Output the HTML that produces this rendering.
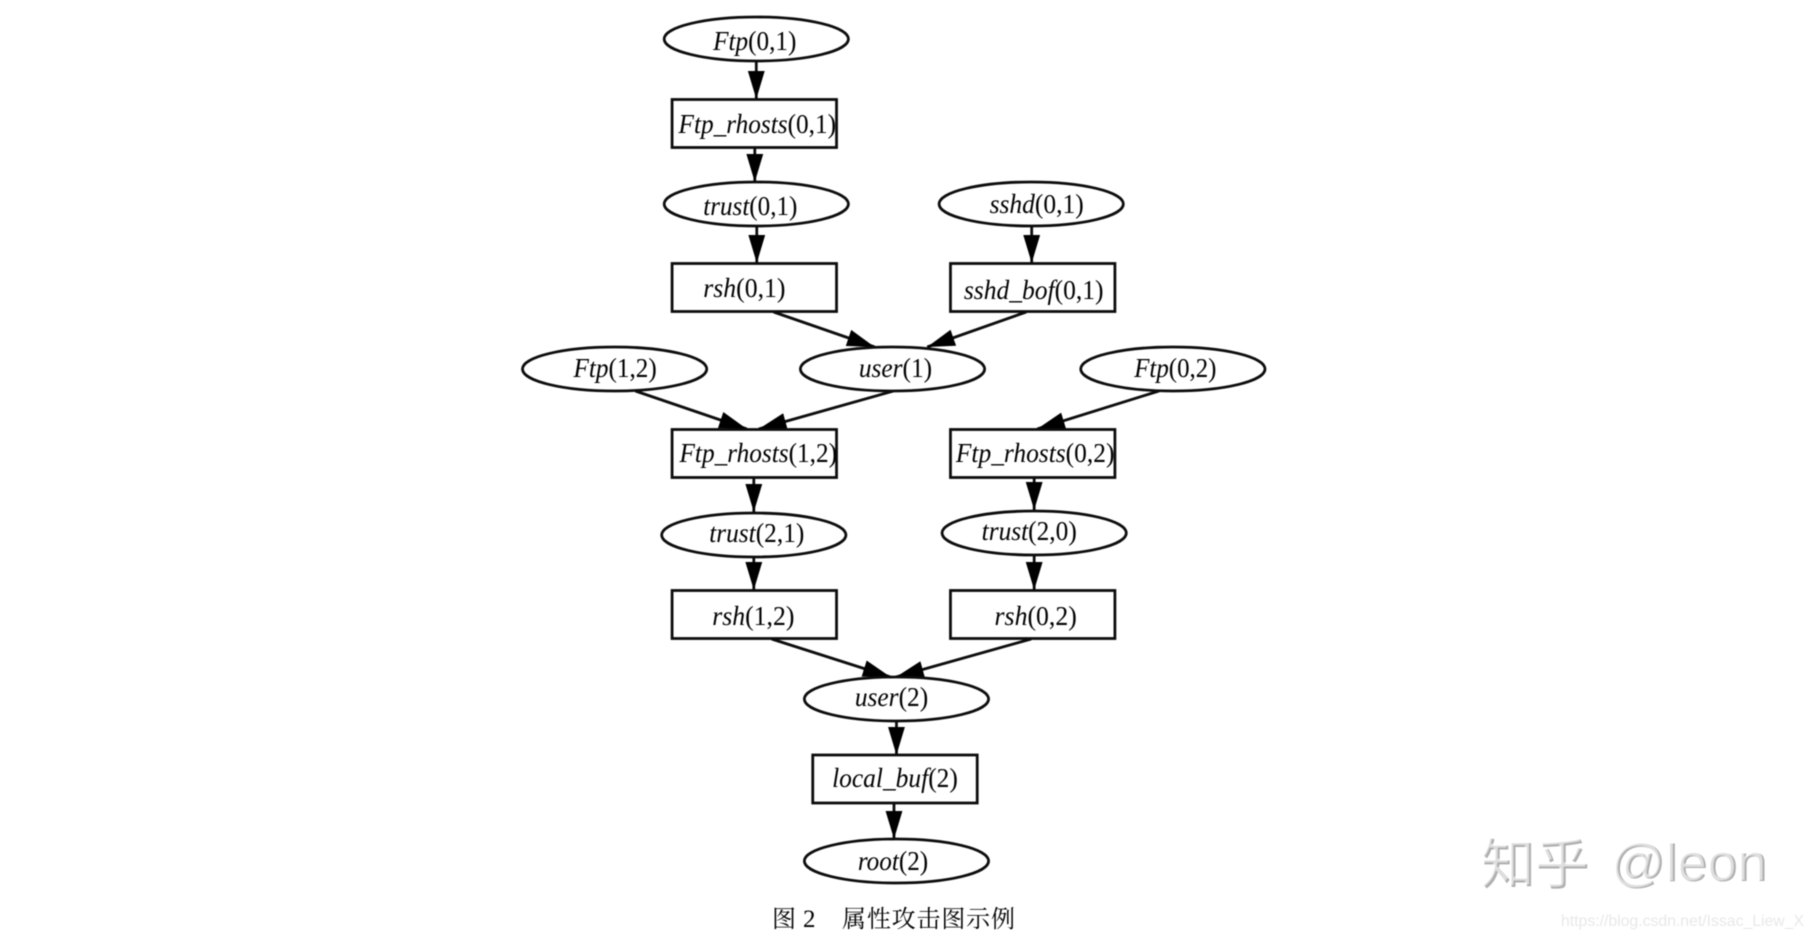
<!DOCTYPE html>
<html><head><meta charset="utf-8">
<style>
html,body{margin:0;padding:0;background:#fff;width:1814px;height:938px;overflow:hidden}
svg{display:block;filter:blur(0.45px)}
text{font-family:"Liberation Serif","Noto Serif CJK SC",serif;font-size:27px;fill:#000}
.i{font-style:italic}
ellipse,rect{fill:#fff;stroke:#0c0c0c;stroke-width:2.8}
line{stroke:#0c0c0c;stroke-width:2.8;marker-end:url(#a)}
</style></head><body>
<svg width="1814" height="938" viewBox="0 0 1814 938" xmlns="http://www.w3.org/2000/svg">
<defs><marker id="a" markerUnits="userSpaceOnUse" markerWidth="30" markerHeight="20" refX="28" refY="10" orient="auto"><polygon points="0,1.5 28,10 0,18.5" fill="#000"/></marker></defs>

<g transform="translate(4.84,0) scale(0.9907,1)">
<line x1="758.5" y1="62" x2="758.5" y2="99"/>
<line x1="757" y1="148" x2="757" y2="182"/>
<line x1="759" y1="227" x2="759" y2="263"/>
<line x1="1036.5" y1="227" x2="1036.5" y2="263"/>
<line x1="776" y1="312" x2="878" y2="347"/>
<line x1="1031" y1="312" x2="931" y2="347"/>
<line x1="636.5" y1="391" x2="749" y2="429"/>
<line x1="897" y1="391" x2="761" y2="429"/>
<line x1="1165" y1="391" x2="1042" y2="429"/>
<line x1="756" y1="478" x2="756" y2="512"/>
<line x1="1039" y1="478" x2="1039" y2="510"/>
<line x1="756" y1="557" x2="756" y2="590"/>
<line x1="1039" y1="555" x2="1039" y2="590"/>
<line x1="774" y1="639" x2="894" y2="677"/>
<line x1="1036" y1="639" x2="899.5" y2="677"/>
<line x1="900" y1="721" x2="900" y2="755"/>
<line x1="897.5" y1="803" x2="897.5" y2="839"/>

<ellipse cx="758.5" cy="39" rx="93" ry="22"/>
<rect x="673.5" y="99.5" width="166" height="48"/>
<ellipse cx="758.5" cy="204" rx="93" ry="22"/>
<ellipse cx="1036" cy="204" rx="93" ry="22"/>
<rect x="673.5" y="263.5" width="166" height="48"/>
<rect x="954.5" y="263.5" width="166" height="48"/>
<ellipse cx="615.5" cy="369" rx="93" ry="22"/>
<ellipse cx="896" cy="369" rx="93" ry="22"/>
<ellipse cx="1179" cy="369" rx="93" ry="22"/>
<rect x="673.5" y="429.5" width="166" height="48"/>
<rect x="954.5" y="429.5" width="166" height="48"/>
<ellipse cx="756" cy="535" rx="93" ry="22"/>
<ellipse cx="1039" cy="533" rx="93" ry="22"/>
<rect x="673.5" y="590.5" width="166" height="48"/>
<rect x="954.5" y="590.5" width="166" height="48"/>
<ellipse cx="900" cy="699" rx="93" ry="22"/>
<rect x="815.5" y="755" width="166" height="48"/>
<ellipse cx="900" cy="861" rx="93" ry="22"/>

<text x="715" y="50" textLength="84" lengthAdjust="spacingAndGlyphs"><tspan class="i">Ftp</tspan>(0,1)</text>
<text x="680" y="133" textLength="159" lengthAdjust="spacingAndGlyphs"><tspan class="i">Ftp_rhosts</tspan>(0,1)</text>
<text x="705" y="215" textLength="95" lengthAdjust="spacingAndGlyphs"><tspan class="i">trust</tspan>(0,1)</text>
<text x="994" y="213" textLength="95" lengthAdjust="spacingAndGlyphs"><tspan class="i">sshd</tspan>(0,1)</text>
<text x="705" y="297" textLength="83" lengthAdjust="spacingAndGlyphs"><tspan class="i">rsh</tspan>(0,1)</text>
<text x="968" y="299" textLength="141" lengthAdjust="spacingAndGlyphs"><tspan class="i">sshd_bof</tspan>(0,1)</text>
<text x="574" y="377" textLength="84" lengthAdjust="spacingAndGlyphs"><tspan class="i">Ftp</tspan>(1,2)</text>
<text x="862" y="377" textLength="74" lengthAdjust="spacingAndGlyphs"><tspan class="i">user</tspan>(1)</text>
<text x="1140" y="377" textLength="83" lengthAdjust="spacingAndGlyphs"><tspan class="i">Ftp</tspan>(0,2)</text>
<text x="681" y="462" textLength="159" lengthAdjust="spacingAndGlyphs"><tspan class="i">Ftp_rhosts</tspan>(1,2)</text>
<text x="960" y="462" textLength="160" lengthAdjust="spacingAndGlyphs"><tspan class="i">Ftp_rhosts</tspan>(0,2)</text>
<text x="711" y="542" textLength="96" lengthAdjust="spacingAndGlyphs"><tspan class="i">trust</tspan>(2,1)</text>
<text x="986" y="540" textLength="96" lengthAdjust="spacingAndGlyphs"><tspan class="i">trust</tspan>(2,0)</text>
<text x="714" y="625" textLength="83" lengthAdjust="spacingAndGlyphs"><tspan class="i">rsh</tspan>(1,2)</text>
<text x="999" y="625" textLength="83" lengthAdjust="spacingAndGlyphs"><tspan class="i">rsh</tspan>(0,2)</text>
<text x="858" y="706" textLength="74" lengthAdjust="spacingAndGlyphs"><tspan class="i">user</tspan>(2)</text>
<text x="835" y="787" textLength="127" lengthAdjust="spacingAndGlyphs"><tspan class="i">local_buf</tspan>(2)</text>
<text x="861" y="870" textLength="71" lengthAdjust="spacingAndGlyphs"><tspan class="i">root</tspan>(2)</text>
</g>

<text x="772" y="927" style="font-size:24px">图</text>
<text x="803" y="927" style="font-size:25px">2</text>
<text x="842" y="927" style="font-size:24px" textLength="173">属性攻击图示例</text>

<text x="1482" y="884" style="font-family:'Noto Sans CJK SC',sans-serif;font-size:54px;fill:#aeaeae">知乎</text>
<text x="1480" y="882" style="font-family:'Noto Sans CJK SC',sans-serif;font-size:54px;fill:#fff;opacity:.6">知乎</text>
<text x="1612" y="881" textLength="156" lengthAdjust="spacingAndGlyphs" style="font-family:'Liberation Sans',sans-serif;font-size:52px;fill:#aeaeae">@leon</text>
<text x="1610" y="880" textLength="156" lengthAdjust="spacingAndGlyphs" style="font-family:'Liberation Sans',sans-serif;font-size:52px;fill:#fff;opacity:.6">@leon</text>
<text x="1561" y="926" textLength="243" lengthAdjust="spacingAndGlyphs" style="font-family:'Liberation Sans',sans-serif;font-size:16px;fill:#e8e8e8">https://blog.csdn.net/Issac_Liew_X</text>
</svg>
</body></html>
